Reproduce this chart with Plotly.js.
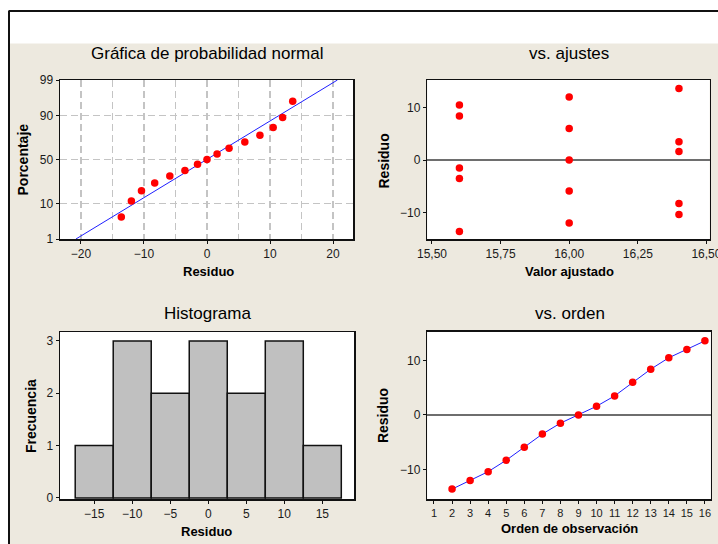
<!DOCTYPE html>
<html>
<head>
<meta charset="utf-8">
<script src="https://cdn.plot.ly/plotly-3.0.1.min.js"></script>
<style>html,body{margin:0;padding:0;background:#fff;overflow:hidden;}</style>
</head>
<body>
<div id="chart" style="width:718px;height:544px;"></div>
<script>
// ---- data ----
const orderNums   = [2, 3, 4, 5, 6, 7, 8, 9, 10, 11, 12, 13, 14, 15, 16];
const residuals   = [-13.6, -12.0, -10.4, -8.3, -5.9, -3.5, -1.5, 0.0, 1.6, 3.5, 6.0, 8.4, 10.5, 12.0, 13.6];
const fittedVals  = [15.6, 16.0, 16.4, 16.4, 16.0, 15.6, 15.6, 16.0, 16.4, 16.4, 16.0, 15.6, 15.6, 16.0, 16.4];
const probPercent = [4.6, 11.3, 18, 24.5, 31.5, 37.5, 44.5, 50, 56.5, 63, 69.5, 76, 82.5, 89, 95.6];
const fitLineX    = [-20.8, 20.7];
const fitLineP    = [1, 99];
const probTicks   = [1, 10, 50, 90, 99];
const normTicks   = [-20, -10, 0, 10, 20];
const fitTickVals = [15.5, 15.75, 16.0, 16.25, 16.5];
const fitTickText = ['15,50', '15,75', '16,00', '16,25', '16,50'];
const histTicks   = [-15, -10, -5, 0, 5, 10, 15];
const orderTicks  = [1, 2, 3, 4, 5, 6, 7, 8, 9, 10, 11, 12, 13, 14, 15, 16];

// inverse standard normal CDF (normal-probability axis transform)
function norminv(p){
  const a=[-3.969683028665376e+01,2.209460984245205e+02,-2.759285104469687e+02,1.383577518672690e+02,-3.066479806614716e+01,2.506628277459239e+00];
  const b=[-5.447609879822406e+01,1.615858368580409e+02,-1.556989798598866e+02,6.680131188771972e+01,-1.328068155288572e+01];
  const c=[-7.784894002430293e-03,-3.223964580411365e-01,-2.400758277161838e+00,-2.549732539343734e+00,4.374664141464968e+00,2.938163982698783e+00];
  const d=[7.784695709041462e-03,3.224671290700398e-01,2.445134137142996e+00,3.754408661907416e+00];
  const pl=0.02425, ph=1-pl; let q,r;
  if(p<pl){q=Math.sqrt(-2*Math.log(p));return (((((c[0]*q+c[1])*q+c[2])*q+c[3])*q+c[4])*q+c[5])/((((d[0]*q+d[1])*q+d[2])*q+d[3])*q+1);}
  if(p<=ph){q=p-0.5;r=q*q;return (((((a[0]*r+a[1])*r+a[2])*r+a[3])*r+a[4])*r+a[5])*q/(((((b[0]*r+b[1])*r+b[2])*r+b[3])*r+b[4])*r+1);}
  q=Math.sqrt(-2*Math.log(1-p));return -(((((c[0]*q+c[1])*q+c[2])*q+c[3])*q+c[4])*q+c[5])/((((d[0]*q+d[1])*q+d[2])*q+d[3])*q+1);
}
const z = p => norminv(p/100);

const W=718, H=544;
const px = v => v/W;
const py = v => 1 - v/H;
const FONT = 'Liberation Sans, Arial, sans-serif';
const tickFont = {family: FONT, size: 12, color: '#1a1a1a'};
const RED = '#ff0000', BLUE = '#1f1fff';

const traces = [
  {type:'scatter', mode:'lines', x: fitLineX, y: fitLineP.map(z), xaxis:'x', yaxis:'y',
   line:{color:BLUE, width:1}, hoverinfo:'skip'},
  {type:'scatter', mode:'markers', x: residuals, y: probPercent.map(z), xaxis:'x', yaxis:'y',
   marker:{color:RED, size:7.5}},
  {type:'scatter', mode:'markers', x: fittedVals, y: residuals, xaxis:'x2', yaxis:'y2',
   marker:{color:RED, size:7.5}},
  {type:'histogram', x: residuals, xaxis:'x3', yaxis:'y3',
   xbins:{start:-17.5, end:17.5, size:5},
   marker:{color:'#c0c0c0', line:{color:'#111', width:1.5}}},
  {type:'scatter', mode:'lines+markers', x: orderNums, y: residuals, xaxis:'x4', yaxis:'y4',
   line:{color:BLUE, width:1}, marker:{color:RED, size:7.5}}
];

const frame = {showline:true, mirror:true, linecolor:'#111', linewidth:1.5,
  ticks:'outside', ticklen:3, tickwidth:1, tickcolor:'#111', tickfont:tickFont,
  automargin:false, fixedrange:true, ticklabeloverflow:'allow'};
const grid = {showgrid:true, gridcolor:'#c4c4c4', gridwidth:1.5, griddash:'7px,4px'};

const layout = {
  width:W, height:H, margin:{l:0,r:0,t:0,b:0},
  paper_bgcolor:'#ede9df', plot_bgcolor:'#ffffff', showlegend:false, bargap:0,
  xaxis: Object.assign({}, frame, grid, {domain:[px(60),px(353)], range:[-23.33,23.17], anchor:'y',
    tickvals:normTicks, zeroline:false,
    minor:{dtick:5, tick0:0, showgrid:true, gridcolor:'#c4c4c4', gridwidth:1.5, griddash:'7px,4px', ticks:''}}),
  yaxis: Object.assign({}, frame, grid, {domain:[py(239),py(80)], range:[z(fitLineP[0]), z(fitLineP[1])], anchor:'x',
    tickvals:probTicks.map(z), ticktext:probTicks.map(String), zeroline:false}),
  xaxis2: Object.assign({}, frame, {domain:[px(427.3),px(709.7)], range:[15.483,16.512], anchor:'y2',
    tickvals:fitTickVals, ticktext:fitTickText, showgrid:false, zeroline:false}),
  yaxis2: Object.assign({}, frame, {domain:[py(239.3),py(80)], range:[-15.1,15.24], anchor:'x2',
    tickvals:[-10,0,10], showgrid:false, zeroline:true, zerolinecolor:'#6e6e6e', zerolinewidth:2}),
  xaxis3: Object.assign({}, frame, {domain:[px(60),px(354)], range:[-19.5,19.17], anchor:'y3',
    tickvals:histTicks, showgrid:false, zeroline:false}),
  yaxis3: Object.assign({}, frame, {domain:[py(499),py(332)], range:[-0.02,3.17], anchor:'x3',
    tickvals:[0,1,2,3], showgrid:false, zeroline:false}),
  xaxis4: Object.assign({}, frame, {domain:[px(427.3),px(710.7)], range:[0.63,16.32], anchor:'y4',
    tickvals:orderTicks, showgrid:false, zeroline:false, tickfont:{family:FONT, size:11, color:'#1a1a1a'}}),
  yaxis4: Object.assign({}, frame, {domain:[py(499.3),py(331.7)], range:[-15.47,15.28], anchor:'x4',
    tickvals:[-10,0,10], showgrid:false, zeroline:true, zerolinecolor:'#6e6e6e', zerolinewidth:2}),
  shapes: [
    {type:'rect', xref:'paper', yref:'paper', x0:0, x1:1, y0:py(43.5), y1:1, fillcolor:'#ffffff', line:{width:0}, layer:'below'},
    {type:'rect', xref:'paper', yref:'paper', x0:0, x1:px(8.5), y0:0, y1:1, fillcolor:'#ffffff', line:{width:0}, layer:'below'},
    {type:'line', xref:'paper', yref:'paper', x0:px(9), x1:px(9), y0:0, y1:py(10.5), line:{color:'#111', width:2}},
    {type:'line', xref:'paper', yref:'paper', x0:px(9), x1:1, y0:py(11), y1:py(11), line:{color:'#111', width:2}}
  ],
  annotations: []
};

function ann(text, x, y, size, bold, angle){
  layout.annotations.push({text: bold ? '<b>'+text+'</b>' : text, x:px(x), y:py(y), xref:'paper', yref:'paper',
    xanchor:'center', yanchor:'middle', showarrow:false, textangle: angle||0,
    font:{family:FONT, size:size, color:'#000'}});
}
ann('Gráfica de probabilidad normal', 207, 54, 17, false);
ann('vs. ajustes', 569, 54, 17, false);
ann('Histograma', 207.5, 313.4, 17, false);
ann('vs. orden', 569.7, 313.4, 17, false);
ann('Residuo', 208, 271.5, 13, true);
ann('Valor ajustado', 569, 271.5, 13, true);
ann('Residuo', 207, 531.5, 13, true);
ann('Orden de observación', 569.7, 528.5, 13, true);
ann('Porcentaje', 22.5, 160, 14, true, -90);
ann('Residuo', 383, 161.5, 14, true, -90);
ann('Frecuencia', 30.8, 416.3, 14, true, -90);
ann('Residuo', 382.8, 415.3, 14, true, -90);

Plotly.newPlot('chart', traces, layout, {staticPlot:true, displayModeBar:false});
</script>
</body>
</html>
